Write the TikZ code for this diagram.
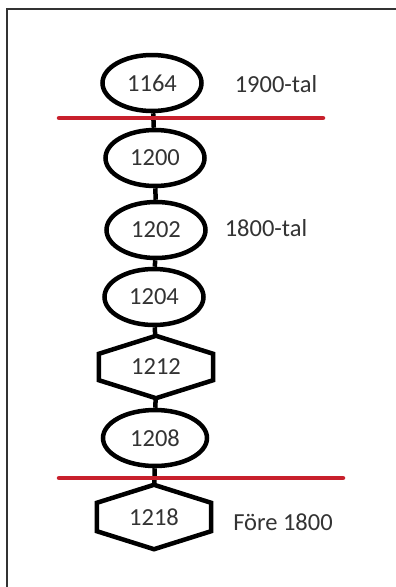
\documentclass[tikz,border=0pt]{standalone}
\usepackage{fontspec}
\setmainfont{Carlito}
\usepackage{xcolor}
\usetikzlibrary{shapes.geometric, positioning}
\definecolor{cutred}{HTML}{C8202C}
\definecolor{inkgray}{HTML}{333333}

% six-cornered frame around a plain node, tips on top and bottom
\newcommand\hexframe[1]{%
  \draw[line width=4.5pt, black]
    (#1.north) -- ([yshift=-18pt]#1.north east) -- ([yshift=18pt]#1.south east)
    -- (#1.south) -- ([yshift=18pt]#1.south west) -- ([yshift=-18pt]#1.north west) -- cycle;}

\begin{document}
\begin{tikzpicture}[
  x=1pt, y=-1pt,
  rec/.style={ellipse, draw=black, line width=4.5pt, inner sep=0pt, minimum width=99pt, minimum height=56pt, font=\fontsize{24.5}{28}\selectfont, text=inkgray},
  hexrec/.style={rectangle, inner sep=0pt, minimum width=114pt, minimum height=62pt, font=\fontsize{24.5}{28}\selectfont, text=inkgray},
  era/.style={font=\fontsize{24.5}{28}\selectfont, text=inkgray},
  link/.style={line width=4.5pt, black},
  cut/.style={line width=4.5pt, cutred, line cap=round},
]
\useasboundingbox (0,0) rectangle (396,587);
% frame (only top and left edges show)
\draw[inkgray, line width=1.5pt] (7,587) -- (7,9) -- (396,9);

% chain of records
\node[rec] (r1164) at (152,83) {1164};
\node[rec] (r1200) at (155,158) {1200};
\node[rec] (r1202) at (156,230) {1202};
\node[rec] (r1204) at (154,297) {1204};
\node[hexrec] (r1212) at (156,367) {1212};
\node[rec, minimum width=104pt] (r1208) at (155,438) {1208};
\node[hexrec, minimum height=64pt] (r1218) at (154,517) {1218};
\hexframe{r1212}
\hexframe{r1218}

\draw[link] (r1164) -- (r1200);
\draw[link] (r1200) -- (r1202);
\draw[link] (r1202) -- (r1204);
\draw[link] (r1204) -- (r1212);
\draw[link] (r1212) -- (r1208);
\draw[link] (r1208) -- (r1218);

% period boundaries
\coordinate (c1a) at (59,118);
\coordinate (c1b) at (323,118);
\coordinate (c2a) at (59,478);
\coordinate (c2b) at (343,478);
\draw[cut] (c1a) -- (c1b);
\draw[cut] (c2a) -- (c2b);

% period labels
\node[era] (t1900) at (276,84) {1900-tal};
\node[era] (t1800) at (266,228) {1800-tal};
\node[era] (tfore) at (283,522) {Före 1800};
\end{tikzpicture}
\end{document}
